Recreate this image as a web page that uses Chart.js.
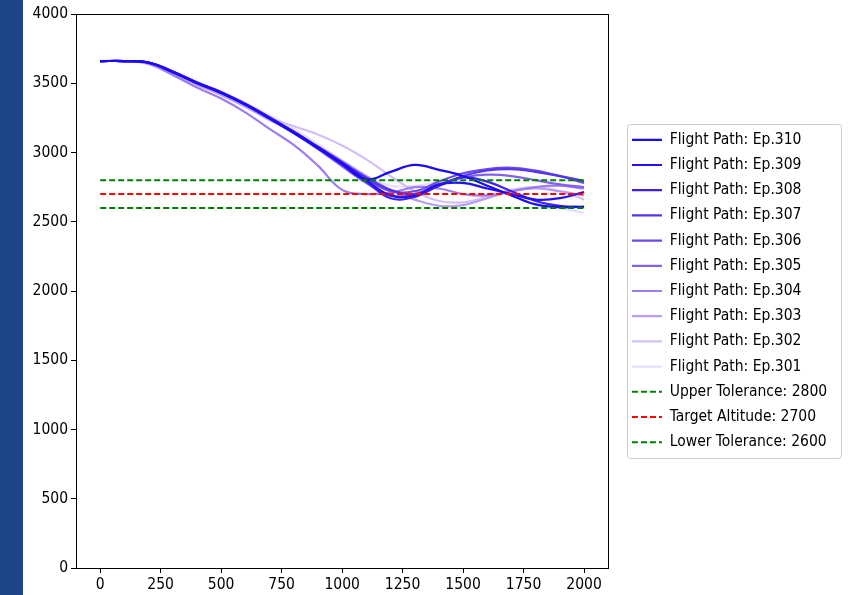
<!DOCTYPE html>
<html>
<head>
<meta charset="utf-8">
<script src="https://cdn.jsdelivr.net/npm/chart.js@4.4.0/dist/chart.umd.min.js"></script>
<style>
  html, body { margin: 0; padding: 0; background: #fff; }
  #wrap { position: relative; width: 851px; height: 595px; overflow: hidden; }
  #band { position: absolute; left: 0; top: 0; width: 23px; height: 595px; background: #1d4587; }
  #mainChart { position: absolute; left: 0; top: 0; }
</style>
</head>
<body>
<div id="wrap">
  <div id="band"></div>
  <canvas id="mainChart" width="851" height="595"></canvas>
</div>
<script>
const FONT = "'DejaVu Sans Condensed', 'Liberation Sans', sans-serif";

// eixo x (passos) e ticks
const xSteps = [0, 100, 200, 300, 400, 500, 600, 700, 800, 900, 1000,
  1100, 1200, 1300, 1400, 1500, 1600, 1700, 1800, 1900, 2000];
const xTicks = [0, 250, 500, 750, 1000, 1250, 1500, 1750, 2000];
const yTicks = [0, 500, 1000, 1500, 2000, 2500, 3000, 3500, 4000];

const episodes = ["Ep.310", "Ep.309", "Ep.308", "Ep.307", "Ep.306",
  "Ep.305", "Ep.304", "Ep.303", "Ep.302", "Ep.301"];

// altitudes por episodio
const alt310 = [3660, 3660, 3648, 3580, 3500, 3430, 3345, 3245, 3140, 3030, 2915, 2805, 2860, 2910, 2875, 2830, 2760, 2690, 2625, 2605, 2610];
const alt309 = [3660, 3660, 3650, 3585, 3505, 3435, 3350, 3250, 3150, 3040, 2925, 2800, 2690, 2690, 2770, 2780, 2740, 2700, 2660, 2670, 2715];
const alt308 = [3660, 3660, 3648, 3582, 3502, 3432, 3348, 3248, 3145, 3035, 2915, 2790, 2670, 2680, 2760, 2820, 2790, 2720, 2650, 2615, 2605];
const alt307 = [3660, 3660, 3650, 3585, 3505, 3435, 3350, 3255, 3150, 3040, 2930, 2820, 2730, 2700, 2760, 2830, 2870, 2880, 2860, 2830, 2795];
const alt306 = [3660, 3660, 3650, 3583, 3503, 3433, 3350, 3252, 3148, 3035, 2920, 2810, 2720, 2720, 2790, 2850, 2880, 2890, 2870, 2830, 2780];
const alt305 = [3660, 3660, 3648, 3580, 3500, 3428, 3345, 3245, 3140, 3025, 2900, 2780, 2690, 2700, 2770, 2820, 2840, 2830, 2800, 2770, 2750];
const alt304 = [3660, 3660, 3640, 3560, 3470, 3390, 3290, 3170, 3055, 2905, 2730, 2700, 2710, 2750, 2740, 2700, 2690, 2720, 2750, 2760, 2740];
const alt303 = [3660, 3660, 3645, 3570, 3490, 3415, 3330, 3235, 3145, 3045, 2940, 2830, 2730, 2660, 2615, 2620, 2670, 2720, 2740, 2720, 2690];
const alt302 = [3660, 3660, 3650, 3580, 3500, 3420, 3335, 3250, 3190, 3130, 3050, 2950, 2830, 2720, 2650, 2640, 2680, 2730, 2750, 2720, 2660];
const alt301 = [3660, 3660, 3650, 3585, 3510, 3440, 3360, 3270, 3170, 3060, 2940, 2830, 2760, 2760, 2780, 2775, 2745, 2700, 2650, 2600, 2565];

const flightSeries = [alt310, alt309, alt308, alt307, alt306, alt305, alt304, alt303, alt302, alt301];

const upperTol = 2800;
const targetAlt = 2700;
const lowerTol = 2600;

const lineColors = ["#1a0af5", "#2610f0", "#4020f0", "#5634ee", "#6c48ec",
  "#8460ee", "#9c7cf0", "#b89cf4", "#d2c0f6", "#e9defa"];

const datasets = episodes.map((ep, i) => ({
  label: `Flight Path: ${ep}`,
  data: xSteps.map((x, j) => ({ x, y: flightSeries[i][j] })),
  borderColor: lineColors[i],
  backgroundColor: lineColors[i],
  borderWidth: 2.2,
  pointRadius: 0,
  tension: 0.4,
  fill: false
}));

const refLine = (label, value, color) => ({
  label: `${label}: ${value}`,
  data: [{ x: xSteps[0], y: value }, { x: xSteps[xSteps.length - 1], y: value }],
  borderColor: color,
  backgroundColor: color,
  borderWidth: 2,
  borderDash: [6, 3],
  pointRadius: 0,
  fill: false,
  order: -1
});

datasets.push(refLine("Upper Tolerance", upperTol, "#008000"));
datasets.push(refLine("Target Altitude", targetAlt, "#ff0000"));
datasets.push(refLine("Lower Tolerance", lowerTol, "#008000"));

// moldura do grafico (bordas de cima e direita)
const frame = {
  id: "frame",
  afterDatasetsDraw(chart) {
    const { ctx, chartArea: a } = chart;
    ctx.save();
    ctx.strokeStyle = "#000";
    ctx.lineWidth = 1;
    ctx.strokeRect(Math.round(a.left) + 0.5, Math.round(a.top) + 0.5,
      Math.round(a.right - a.left), Math.round(a.bottom - a.top));
    ctx.restore();
  }
};

// legenda deslocada e com caixa
const legendBox = {
  id: "legendBox",
  afterLayout(chart) {
    const lg = chart.legend;
    lg.left += 14;
    lg.right = chart.width;
  },
  afterDraw(chart) {
    const lg = chart.legend;
    const pad = lg.options.labels.padding;
    const col = lg.columnSizes[0];
    const y0 = (lg.top + pad + lg.bottom - col.height) / 2;
    const x0 = lg.left + pad - 5;
    const x1 = lg.left + pad + col.width + 14;
    const y1 = y0 + col.height - pad + 8;
    const ctx = chart.ctx;
    ctx.save();
    ctx.strokeStyle = "#cccccc";
    ctx.lineWidth = 1;
    ctx.beginPath();
    ctx.roundRect(Math.round(x0) + 0.5, Math.round(y0 - 8) + 0.5,
      Math.round(x1 - x0), Math.round(y1 - y0 + 8), 3);
    ctx.stroke();
    ctx.restore();
  }
};

const ctx = document.getElementById("mainChart").getContext("2d");

const mainChart = new Chart(ctx, {
  type: "line",
  data: { datasets },
  options: {
    responsive: false,
    animation: false,
    layout: { padding: { top: 14, right: 40, left: 0, bottom: 0 } },
    plugins: {
      tooltip: { enabled: false },
      legend: {
        position: "right",
        fullSize: false,
        labels: {
          usePointStyle: true,
          pointStyle: "line",
          pointStyleWidth: 30,
          padding: 9.7,
          color: "#000",
          font: { family: FONT, size: 15.5 },
          sort: (a, b) => a.datasetIndex - b.datasetIndex,
          generateLabels: (chart) => {
            const items = Chart.defaults.plugins.legend.labels.generateLabels(chart);
            items.forEach(it => {
              const ds = chart.data.datasets[it.datasetIndex];
              it.lineDash = ds.borderDash || [];
              it.lineWidth = ds.borderWidth;
              it.strokeStyle = ds.borderColor;
            });
            return items;
          }
        }
      }
    },
    scales: {
      x: {
        type: "linear",
        min: -100,
        max: 2100,
        afterBuildTicks: (s) => { s.ticks = xTicks.map(v => ({ value: v })); },
        afterFit: (s) => { s.height = 27; },
        grid: { drawOnChartArea: false, drawTicks: true, tickLength: 5, color: "#000" },
        border: { display: true, color: "#000", width: 1 },
        ticks: { color: "#000", padding: 3, maxRotation: 0, callback: (v) => String(v),
          font: { family: FONT, size: 15.5 } }
      },
      y: {
        min: 0,
        max: 4000,
        afterBuildTicks: (s) => { s.ticks = yTicks.map(v => ({ value: v })); },
        afterFit: (s) => { s.width = 76; },
        grid: { drawOnChartArea: false, drawTicks: true, tickLength: 5, color: "#000" },
        border: { display: true, color: "#000", width: 1 },
        ticks: { color: "#000", padding: 3, callback: (v) => String(v),
          font: { family: FONT, size: 15.5 } }
      }
    }
  },
  plugins: [frame, legendBox]
});
</script>
</body>
</html>
